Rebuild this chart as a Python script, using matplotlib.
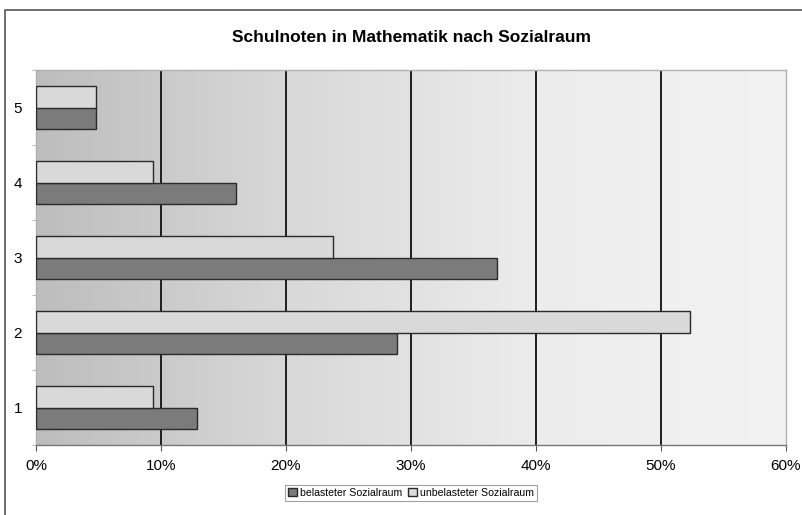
import numpy as np
import matplotlib
matplotlib.use("Agg")
import matplotlib.pyplot as plt
from matplotlib.patches import Rectangle
from matplotlib.colors import LinearSegmentedColormap

plt.rcParams['font.family'] = ['Liberation Sans', 'DejaVu Sans']

categories = ["1", "2", "3", "4", "5"]
belastet = [12.9, 28.9, 36.9, 16.0, 4.8]
unbelastet = [9.4, 52.3, 23.8, 9.4, 4.8]
series_names = ["belasteter Sozialraum", "unbelasteter Sozialraum"]
xticks = [0, 10, 20, 30, 40, 50, 60]
title = "Schulnoten in Mathematik nach Sozialraum"

W, H = 803, 515
fig = plt.figure(figsize=(W / 100, H / 100), dpi=100)
fig.patch.set_facecolor("white")

# outer chart frame
fig.patches.append(Rectangle((5 / W, -0.1), 1.2, 1 - 10 / H + 0.1, transform=fig.transFigure,
                             fill=False, edgecolor="#555555", lw=1.2))

ax = fig.add_axes([36 / W, 1 - 445 / H, (786 - 36) / W, (445 - 70) / H])

# gradient background
grad = np.linspace(0, 1, 256).reshape(1, -1)
cmap = LinearSegmentedColormap.from_list("bg", ["#bdbdbd", "#d8d8d8", "#ececec", "#f3f3f3"])
ax.imshow(grad, extent=[0, 60, 0.5, 5.5], aspect="auto", cmap=cmap, zorder=0)

y = np.arange(1, len(categories) + 1)
h = 0.29
ax.barh(y - h / 2, belastet, height=h, color="#7b7b7b", edgecolor="#2a2a2a", lw=1.0, zorder=3,
        label=series_names[0])
ax.barh(y + h / 2, unbelastet, height=h, color="#d9d9d9", edgecolor="#2a2a2a", lw=1.0, zorder=3,
        label=series_names[1])

for v in xticks[1:-1]:
    ax.axvline(v, color="#1e1e1e", lw=1.4, zorder=2)

ax.set_xlim(0, 60)
ax.set_ylim(0.5, 5.5)
ax.set_xticks(xticks)
ax.set_xticklabels([f"{v}%" for v in xticks], fontsize=11)
ax.set_yticks(y)
ax.set_yticklabels(categories, fontsize=11)
ax.set_yticks(np.arange(0.5, 5.6, 1), minor=True)
ax.tick_params(axis="y", which="major", length=0, pad=10)
ax.tick_params(axis="y", which="minor", length=3, color="#aaaaaa", direction="out")
ax.tick_params(axis="x", length=4, color="#555555", pad=6)

for s in ["top", "right", "left"]:
    ax.spines[s].set_color("#b0b0b0")
    ax.spines[s].set_linewidth(1.0)
ax.spines["bottom"].set_color("#777777")
ax.spines["bottom"].set_linewidth(1.0)

fig.text(411 / W, 1 - 37 / H, title, ha="center", va="center", fontsize=12.5, fontweight="bold")

handles, labels = ax.get_legend_handles_labels()
leg = fig.legend(handles, labels, loc="center", bbox_to_anchor=(411 / W, 1 - 493 / H), ncol=2,
                 fontsize=7.6, frameon=True, fancybox=False, edgecolor="#888888",
                 handlelength=0.8, handleheight=0.8, handletextpad=0.3, columnspacing=0.6,
                 borderpad=0.3, borderaxespad=0)
leg.get_frame().set_linewidth(0.8)

fig.savefig("out.png", dpi=100)
